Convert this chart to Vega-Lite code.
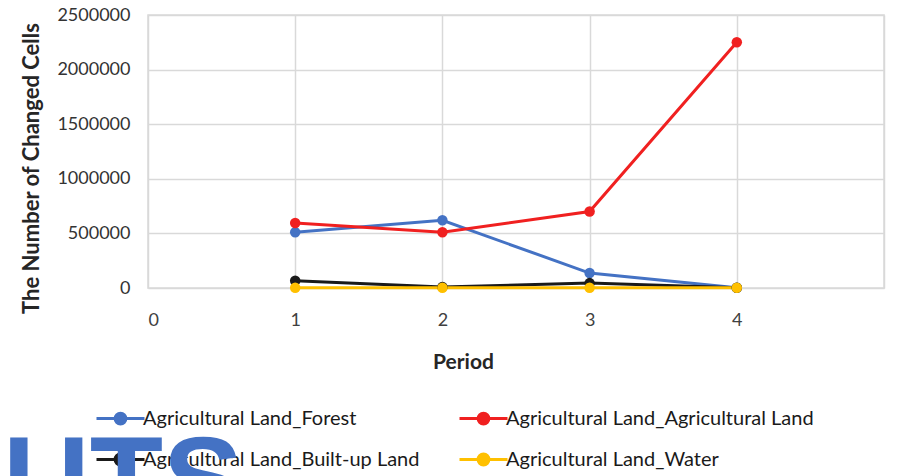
{
  "$schema": "https://vega.github.io/schema/vega-lite/v6.json",
  "width": 736,
  "height": 273,
  "autosize": {"type": "none"},
  "padding": {"left": 148, "top": 15, "right": 20, "bottom": 188},
  "background": "white",
  "config": {
    "font": "Lato",
    "view": {"stroke": "#d9d9d9", "strokeWidth": 1.5},
    "legend": {"padding": 0}
  },
  "title": {
    "text": "UTS",
    "orient": "bottom",
    "anchor": "start",
    "frame": "group",
    "offset": -45,
    "dx": -145,
    "font": "Liberation Sans",
    "fontSize": 120,
    "fontWeight": "bold",
    "color": "#4472C4"
  },
  "data": {
    "values": [
      {"period": 1, "series": "Agricultural Land_Forest", "cells": 510000},
      {"period": 2, "series": "Agricultural Land_Forest", "cells": 620000},
      {"period": 3, "series": "Agricultural Land_Forest", "cells": 137000},
      {"period": 4, "series": "Agricultural Land_Forest", "cells": 3000},
      {"period": 1, "series": "Agricultural Land_Agricultural Land", "cells": 595000},
      {"period": 2, "series": "Agricultural Land_Agricultural Land", "cells": 510000},
      {"period": 3, "series": "Agricultural Land_Agricultural Land", "cells": 700000},
      {"period": 4, "series": "Agricultural Land_Agricultural Land", "cells": 2250000},
      {"period": 1, "series": "Agricultural Land_Built-up Land", "cells": 67000},
      {"period": 2, "series": "Agricultural Land_Built-up Land", "cells": 10000},
      {"period": 3, "series": "Agricultural Land_Built-up Land", "cells": 45000},
      {"period": 4, "series": "Agricultural Land_Built-up Land", "cells": 2000},
      {"period": 1, "series": "Agricultural Land_Water", "cells": 2000},
      {"period": 2, "series": "Agricultural Land_Water", "cells": 3000},
      {"period": 3, "series": "Agricultural Land_Water", "cells": 2000},
      {"period": 4, "series": "Agricultural Land_Water", "cells": 2000}
    ]
  },
  "encoding": {
    "x": {
      "field": "period",
      "type": "quantitative",
      "scale": {"domain": [0, 5], "nice": false},
      "axis": {
        "values": [0, 1, 2, 3, 4, 5],
        "labelExpr": "datum.value == 5 ? '' : datum.label",
        "title": "Period",
        "grid": true,
        "gridColor": "#d9d9d9",
        "gridWidth": 1.5,
        "domain": false,
        "ticks": false,
        "labelPadding": 23,
        "labelFontSize": 18,
        "labelColor": "#404040",
        "titleFontSize": 21,
        "titleFontWeight": "bold",
        "titleColor": "#262626",
        "titleX": 315,
        "titleY": 63,
        "titleBaseline": "top"
      }
    },
    "y": {
      "field": "cells",
      "type": "quantitative",
      "scale": {"domain": [0, 2500000], "nice": false},
      "axis": {
        "values": [0, 500000, 1000000, 1500000, 2000000, 2500000],
        "format": "d",
        "title": "The Number of Changed Cells",
        "grid": true,
        "gridColor": "#d9d9d9",
        "gridWidth": 1.5,
        "domain": false,
        "ticks": false,
        "labelPadding": 18,
        "labelFontSize": 18,
        "labelColor": "#333333",
        "titleFontSize": 22,
        "titleFontWeight": "bold",
        "titleColor": "#262626",
        "titleX": -105,
        "titleY": 153
      }
    },
    "color": {
      "field": "series",
      "type": "nominal",
      "sort": null,
      "scale": {
        "domain": [
          "Agricultural Land_Forest",
          "Agricultural Land_Agricultural Land",
          "Agricultural Land_Built-up Land",
          "Agricultural Land_Water"
        ],
        "range": ["#4472C4", "#F02020", "#1a1a1a", "#FFC000"]
      },
      "legend": {
        "orient": "none",
        "legendX": -41,
        "legendY": 390,
        "direction": "horizontal",
        "columns": 2,
        "columnPadding": 33,
        "rowPadding": 16,
        "title": null,
        "symbolType": "M-2,0L2,0M-0.45,0A0.45,0.45,0,1,1,0.45,0A0.45,0.45,0,1,1,-0.45,0Z",
        "symbolSize": 576,
        "symbolStrokeWidth": 3,
        "labelOffset": 9,
        "labelFontSize": 20,
        "labelColor": "#1a1a1a",
        "labelLimit": 400
      }
    }
  },
  "layer": [
    {"mark": {"type": "line", "strokeWidth": 3}},
    {"mark": {"type": "point", "filled": true, "size": 110, "opacity": 1}}
  ]
}
